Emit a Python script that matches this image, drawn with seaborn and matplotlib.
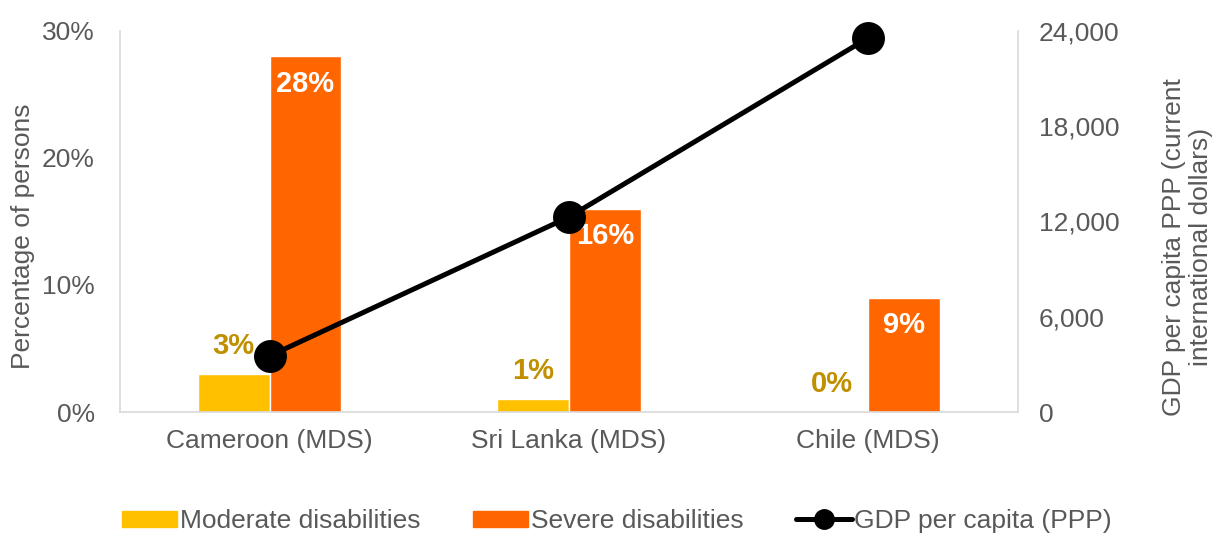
import pandas as pd
import seaborn as sns
import matplotlib.pyplot as plt
from matplotlib.patches import Patch
from matplotlib.lines import Line2D

COUNTRIES = ['Cameroon (MDS)', 'Sri Lanka (MDS)', 'Chile (MDS)']
MODERATE = [0.03, 0.01, 0.0]
SEVERE = [0.28, 0.16, 0.09]
GDP = [3530, 12280, 23560]
SERIES = ['Moderate disabilities', 'Severe disabilities']
COLOURS = ['#FFC000', '#FF6600']

GREY = '#595959'
AXIS_GREY = '#D9D9D9'
FS = 19

sns.set_style('white')
plt.rcParams['font.family'] = ['Liberation Sans', 'DejaVu Sans']

df = pd.DataFrame({
    'country': COUNTRIES * 2,
    'type': [SERIES[0]] * 3 + [SERIES[1]] * 3,
    'value': MODERATE + SEVERE,
})

fig = plt.figure(figsize=(12.19, 5.33), dpi=100)
ax = fig.add_axes([0.0984, 0.227, 0.7366, 0.715])
sns.barplot(data=df, x='country', y='value', hue='type', palette=COLOURS,
            width=0.48, ax=ax, legend=False, saturation=1)

ax.set_ylim(0, 0.30)
ax.set_yticks([0, 0.1, 0.2, 0.3])
ax.set_yticklabels(['0%', '10%', '20%', '30%'])
ax.set_xlabel('')
ax.set_ylabel('Percentage of persons', fontsize=FS, color=GREY)
ax.yaxis.set_label_coords(-0.095, 0.462)
ax.tick_params(axis='both', labelsize=FS, colors=GREY, length=0)
ax.tick_params(axis='y', pad=18)
ax.tick_params(axis='x', pad=12)
for s in ['top', 'right']:
    ax.spines[s].set_visible(False)
for s in ['left', 'bottom']:
    ax.spines[s].set_color(AXIS_GREY)
    ax.spines[s].set_linewidth(1.2)

# data labels
mod_bars, sev_bars = ax.containers[0], ax.containers[1]
ax.bar_label(mod_bars, labels=[f'{v:.0%}' for v in MODERATE], padding=10,
             fontsize=21, fontweight='bold', color='#C09000')
ax.bar_label(sev_bars, labels=[f'{v:.0%}' for v in SEVERE], label_type='edge',
             padding=-30, fontsize=21, fontweight='bold', color='white')

ax2 = ax.twinx()
sns.pointplot(x=COUNTRIES, y=GDP, color='black', markers='o', ax=ax2,
              markersize=21, linewidth=3.6)
for art in ax2.lines + ax2.collections:
    art.set_clip_on(False)
ax2.set_ylim(0, 24000)
ax2.set_yticks([0, 6000, 12000, 18000, 24000])
ax2.set_yticklabels(['0', '6,000', '12,000', '18,000', '24,000'])
ax2.set_ylabel('GDP per capita PPP (current\ninternational dollars)',
               fontsize=FS, color=GREY)
ax2.yaxis.set_label_coords(1.160, 0.433)
ax2.tick_params(axis='y', labelsize=FS, colors=GREY, length=0, pad=15)
for s in ['top', 'left', 'bottom']:
    ax2.spines[s].set_visible(False)
ax2.spines['right'].set_color(AXIS_GREY)
ax2.spines['right'].set_linewidth(1.2)

handles = [
    Patch(color=COLOURS[0], label=SERIES[0]),
    Patch(color=COLOURS[1], label=SERIES[1]),
    Line2D([0], [0], color='black', lw=3.6, marker='o', markersize=14,
           label='GDP per capita (PPP)'),
]
leg = fig.legend(handles=handles, loc='lower center', ncol=3,
                 bbox_to_anchor=(0.506, -0.045), frameon=False, fontsize=FS,
                 handlelength=2.1, handleheight=0.6, columnspacing=2.0,
                 handletextpad=0.1)
for t in leg.get_texts():
    t.set_color(GREY)

fig.savefig('out.png', dpi=100)
